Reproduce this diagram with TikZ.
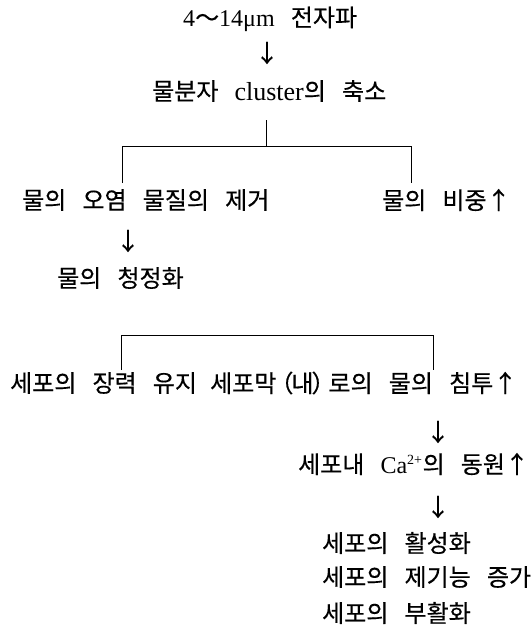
\documentclass[tikz,border=0pt]{standalone}
\usepackage{fontspec}
\setmainfont{Liberation Serif}
\newfontfamily\krf[WordSpace=3.0,FakeBold=0.4]{Noto Sans CJK KR}
\newcommand\K[1]{{\krf\fontsize{24}{28}\selectfont #1}}
\tikzset{
  txt/.style={inner sep=0pt, anchor=west, font=\fontsize{24}{28}\selectfont},
  arr/.style={inner sep=0pt, anchor=center},
  ln/.style={line width=0.9pt}
}
\begin{document}
\begin{tikzpicture}[x=1pt,y=-1pt]
\useasboundingbox (0,0) rectangle (532,629);
% texts
\node[txt] (t1) at (183,19) {4\K{～}14μm\K{ 전자파}};
\node[arr] (a1) at (267,53) {\K{↓}};
\node[txt] (t2) at (152,91) {\K{물분자 }{\fontsize{26}{30}\selectfont cluster}\K{의 축소}};
\node[txt] (t3) at (22,200) {\K{물의 오염 물질의 제거}};
\node[txt] (t4) at (382,200) {\K{물의 비중↑}};
\node[arr] (a2) at (128,241) {\K{↓}};
\node[txt] (t5) at (57,278) {\K{물의 청정화}};
\node[txt] (t6) at (10,383) {\K{세포의 장력 유지}};
\node[txt] (t7) at (210,383) {\K{세포막\kern-7pt（\kern-2pt내\kern-2pt）\kern-7pt로의 물의 침투↑}};
\node[arr] (a3) at (438,432) {\K{↓}};
\node[txt] (t8) at (298,464) {\K{세포내 }Ca\textsuperscript{\fontsize{14}{16}\selectfont 2+}\K{의 동원↑}};
\node[arr] (a4) at (438,507) {\K{↓}};
\node[txt] (t9) at (322,543) {\K{세포의 활성화}};
\node[txt] (t10) at (322,577) {\K{세포의 제기능 증가}};
\node[txt] (t11) at (322,613) {\K{세포의 부활화}};
% bracket 1
\coordinate (s1) at (266,120);
\coordinate (j1) at (266,146);
\coordinate (l1t) at (122,146);
\coordinate (l1b) at (122,183);
\coordinate (r1t) at (411,146);
\coordinate (r1b) at (411,183);
\draw[ln] (s1) -- (j1);
\draw[ln] (l1b) -- (l1t) -- (r1t) -- (r1b);
% bracket 2
\coordinate (l2t) at (121,335);
\coordinate (l2b) at (121,370);
\coordinate (r2t) at (433,335);
\coordinate (r2b) at (433,370);
\draw[ln] (l2b) -- (l2t) -- (r2t) -- (r2b);
\end{tikzpicture}
\end{document}
